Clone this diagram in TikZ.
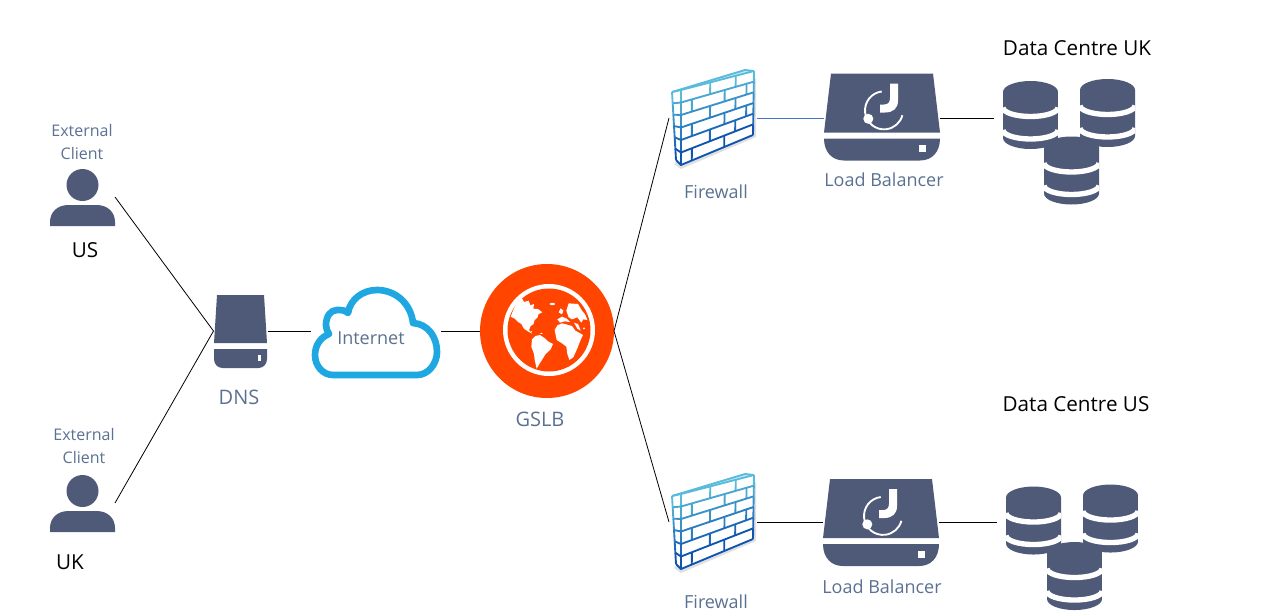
\documentclass[tikz,border=0pt]{standalone}
\usepackage{fontspec}
\setmainfont{Open Sans}
\usetikzlibrary{calc,positioning}
\definecolor{iconslate}{HTML}{4F5A78}
\definecolor{labelslate}{HTML}{5B7191}
\definecolor{cloudblue}{HTML}{1EA7E0}
\definecolor{globeorange}{HTML}{FF4500}
\definecolor{fwlight}{HTML}{58BBDC}
\definecolor{fwdark}{HTML}{0F55B0}
\definecolor{linkblue}{HTML}{4472C4}
\tikzset{
  person/.pic={
    \fill[iconslate] (0,-12) circle[radius=16];
    \fill[iconslate] (-32.5,29) -- (-32.5,25) .. controls (-32.5,15) and (-25,8) .. (-14,8) -- (14,8) .. controls (25,8) and (32.5,15) .. (32.5,25) -- (32.5,29) -- cycle;
  },
  dnsbox/.pic={
    \fill[iconslate] (-23.5,-37) -- (23.5,-37) -- (26.5,11) -- (-26.5,11) -- cycle;
    \fill[iconslate] (-26.5,17) -- (26.5,17) -- (26.5,27) .. controls (26.5,32) and (23,36) .. (18,36) -- (-18,36) .. controls (-23,36) and (-26.5,32) .. (-26.5,27) -- cycle;
    \fill[white] (17,23) rectangle (20,29);
  },
  balancer/.pic={
    \fill[iconslate] (-51,-43.5) -- (51,-43.5) -- (58,15.5) -- (-58,15.5) -- cycle;
    \fill[iconslate] (-58,21.5) -- (58,21.5) .. controls (58,35) and (50,43.5) .. (38,43.5) -- (-38,43.5) .. controls (-50,43.5) and (-58,35) .. (-58,21.5) -- cycle;
    \fill[white] (36.5,28) rectangle (43.5,35);
    % logo
    \fill[white] (8,-33.5) -- (16,-33.5) -- (16,-16.5) .. controls (16,-8.5) and (11,-4.5) .. (3,-4.5) -- (-2,-4.5) -- (-2,-12.5) -- (2,-12.5) .. controls (6,-12.5) and (8,-14.5) .. (8,-19) -- cycle;
    \draw[white,line width=1.4pt] (-0.3,-25.5) arc[start angle=263,end angle=15,radius=19];
    \fill[white] (-13.7,1.8) circle[radius=5];
  },
  firewall/.pic={
    \coordinate (fwa) at (-32,-28);
    \coordinate (fwb) at (41,-47);
    \coordinate (fwc) at (40,17);
    \coordinate (fwd) at (-32,47);
    \coordinate (fwe) at (-41,-26);
    \coordinate (fwf) at (-37,42);
    \fill[black,opacity=.12] (-39,46) -- (-32,51) -- (43,19) -- (43,-40) -- cycle;
    \fill[white] (fwe) -- (fwa) -- (fwb) -- (fwc) -- (fwd) -- (fwf) -- cycle;
    \fill[fwlight!30] (fwe) -- (32,-48) -- (fwb) -- (fwa) -- cycle;
    \draw[fwlight,line width=1.4pt,line join=round] (fwe) -- (32,-48) -- (fwb);
    \foreach \r/\joints in {0/{0,.4,.75,1},1/{0,.15,.6,.9,1},2/{0,.4,.75,1},3/{0,.15,.6,.9,1},4/{0,.4,.75,1},5/{0,.15,.6,1}}{
      \pgfmathsetmacro\fwmix{\r*20}
      \draw[fwdark!\fwmix!fwlight,line width=1.4pt] ($(fwe)!{\r/6}!(fwf)$) -- ($(fwa)!{\r/6}!(fwd)$) -- ($(fwb)!{\r/6}!(fwc)$);
      \draw[fwdark!\fwmix!fwlight,line width=1.4pt] ($(fwe)!{\r/6}!(fwf)$) -- ($(fwe)!{(\r+1)/6}!(fwf)$);
      \foreach \u in \joints{
        \draw[fwdark!\fwmix!fwlight,line width=1.4pt] ($($(fwa)!{\r/6}!(fwd)$)!\u!($(fwb)!{\r/6}!(fwc)$)$) -- ($($(fwa)!{(\r+1)/6}!(fwd)$)!\u!($(fwb)!{(\r+1)/6}!(fwc)$)$);
      }
    }
    \draw[fwdark,line width=1.4pt] (fwf) -- (fwd) -- (fwc);
  },
  dbdisk/.pic={
    \begin{scope}
      \clip (-27.5,0) -- (-27.5,46) arc[start angle=180,end angle=0,x radius=27.5,y radius=11] -- (27.5,0) arc[start angle=0,end angle=-180,x radius=27.5,y radius=11] -- cycle;
      \fill[iconslate] (-28,-12) rectangle (28,58);
      \draw[white,line width=4pt] (-27.5,15.5) arc[start angle=180,end angle=0,x radius=27.5,y radius=9];
      \draw[white,line width=4pt] (-27.5,38) arc[start angle=180,end angle=0,x radius=27.5,y radius=9];
    \end{scope}
  },
  dbstack/.pic={
    \pic at (-34.5,-25) {dbdisk};
    \pic at (42.5,-27) {dbdisk};
    \pic at (6.5,30.5) {dbdisk};
  },
  cloud/.pic={
    \draw[cloudblue,line width=5pt,fill=white,line join=round] (-43,44) -- (41,44) .. controls (52,44) and (61,33) .. (61,21) .. controls (61,6) and (52,-7) .. (37,-8) .. controls (35,-27) and (20,-41) .. (1,-41) .. controls (-14,-41) and (-26,-31) .. (-28,-18) .. controls (-31,-21) and (-35,-21) .. (-39,-21) .. controls (-46,-21) and (-50,-14) .. (-50,-6) .. controls (-50,-3) and (-49,0) .. (-47,3) .. controls (-55,6) and (-61,14) .. (-61,24) .. controls (-61,35) and (-53,44) .. (-43,44) -- cycle;
  },
  globe/.pic={
    \fill[globeorange] (0,0) circle[radius=67];
    \fill[white] (2,-1) circle[radius=46];
    \fill[globeorange] (2,-1) circle[radius=41.5];
    \begin{scope}
      \clip (2,-1) circle[radius=42];
      \begin{scope}[shift={(-49,-51)},scale=1/3]
        % americas
        \fill[white] (38,110) -- (48,85) -- (60,62) -- (72,55) -- (78,66) -- (92,62) -- (97,76) -- (108,72) -- (106,86) -- (120,87) -- (133,97) -- (122,102) -- (118,113) -- (110,120) -- (106,133) -- (98,138) -- (93,150) -- (102,161) -- (88,153) -- (78,146) -- (70,132) -- (60,126) -- (50,116) -- cycle;
        \fill[white] (102,178) -- (112,168) -- (126,165) -- (142,176) -- (150,184) -- (165,192) -- (158,208) -- (143,222) -- (133,238) -- (124,252) -- (116,266) -- (110,240) -- (108,222) -- (100,200) -- cycle;
        % africa
        \fill[white] (170,150) -- (178,136) -- (192,130) -- (208,134) -- (222,138) -- (232,152) -- (255,165) -- (247,182) -- (238,205) -- (226,232) -- (214,240) -- (208,222) -- (205,200) -- (192,190) -- (176,180) -- cycle;
        % eurasia
        \fill[white] (182,97) -- (188,85) -- (196,92) -- (192,103) -- cycle;
        \fill[white] (205,92) -- (212,70) -- (240,72) -- (252,92) -- (262,104) -- (268,120) -- (256,118) -- (250,128) -- (238,112) -- (222,118) -- (212,112) -- cycle;
        \fill[white] (178,118) -- (192,110) -- (206,116) -- (216,126) -- (200,124) -- (186,128) -- cycle;
        \fill[white] (228,128) -- (240,132) -- (248,152) -- (238,146) -- cycle;
        \fill[white] (163,72) circle[x radius=8,y radius=3.5];
        \fill[white] (258,145) circle[radius=3];
        \fill[white] (100,155) circle[radius=2];
        \fill[white] (130,160) circle[x radius=5,y radius=1.5];
        \fill[white] (232,205) circle[x radius=2,y radius=5];
      \end{scope}
    \end{scope}
  }
}
\begin{document}
\begin{tikzpicture}[x=0.75pt,y=-0.75pt,
  iconbox/.style 2 args={inner sep=0pt,outer sep=0pt,minimum width=#1*0.75pt,minimum height=#2*0.75pt},
  grey label/.style={text=labelslate,inner sep=0pt,font=\fontsize{13.5pt}{17pt}\selectfont},
  big label/.style={text=labelslate,inner sep=0pt,font=\fontsize{15pt}{17pt}\selectfont},
  small label/.style={text=labelslate,inner sep=0pt,align=center,font=\fontsize{12pt}{17.25pt}\selectfont},
  black label/.style={text=black,inner sep=0pt,font=\fontsize{15.5pt}{17pt}\selectfont},
  link/.style={black,line width=0.6pt}]
\useasboundingbox (0,0) rectangle (1280,614);
\begin{scope}
\node[iconbox={65}{58}] (clientus) at (82.5,197) {};
\node[iconbox={65}{58}] (clientuk) at (82.5,503) {};
\node[iconbox={54}{75}] (dns) at (240.5,331) {};
\node[iconbox={130}{100}] (internet) at (376,331) {};
\node[iconbox={134}{134}] (gslb) at (547,331) {};
\node[iconbox={88}{96}] (fwuk) at (713,118) {};
\node[iconbox={88}{96}] (fwus) at (713,522) {};
\node[iconbox={116}{87}] (lbuk) at (882,118) {};
\node[iconbox={116}{87}] (lbus) at (881,522) {};
\node[iconbox={142}{120}] (dbuk) at (1065,118) {};
\node[iconbox={142}{120}] (dbus) at (1068,522) {};
\end{scope}
\pic at (clientus) {person};
\pic at (clientuk) {person};
\pic at ([yshift=-0.75pt]dns) {dnsbox};
\pic at (internet) {cloud};
\pic at (gslb) {globe};
\pic at (fwuk) {firewall};
\pic at (fwus) {firewall};
\pic at ([yshift=0.75pt]lbuk) {balancer};
\pic at ([yshift=-0.4pt]lbus) {balancer};
\pic at ([yshift=0.75pt]dbuk) {dbstack};
\pic at ([yshift=-0.4pt]dbus) {dbstack};
\begin{scope}
\draw[link] (clientus.east) -- (dns.west);
\draw[link] (clientuk.east) -- (dns.west);
\draw[link] (dns.east) -- (internet.west);
\draw[link] (internet.east) -- (gslb.west);
\draw[link] (gslb.east) -- (fwuk.west);
\draw[link] (gslb.east) -- (fwus.west);
\draw[link,color=linkblue] (fwuk.east) -- (lbuk.west);
\draw[link] (fwus.east) -- (lbus.west);
\draw[link] (lbuk.east) -- (dbuk.west);
\draw[link] (lbus.east) -- (dbus.west);
\end{scope}
\node[small label] (extus) at (82,141.5) {External\\Client};
\node[small label] (extuk) at (84,445.5) {External\\Client};
\node[black label] (labus) at (85,250) {US};
\node[black label] (labuk) at (70,562.5) {UK};
\node[big label] (labdns) at (239,397) {DNS};
\node[grey label] (labnet) at (371,338) {Internet};
\node[big label] (labgslb) at (540,419) {GSLB};
\node[grey label] (labfwuk) at (716,191.5) {Firewall};
\node[grey label] (labfwus) at (716,601.5) {Firewall};
\node[grey label] (lablbuk) at (884,179.5) {Load Balancer};
\node[grey label] (lablbus) at (882,586.5) {Load Balancer};
\node[black label] (labdcuk) at (1077,48.5) {Data Centre UK};
\node[black label] (labdcus) at (1076,404.5) {Data Centre US};
\end{tikzpicture}
\end{document}
